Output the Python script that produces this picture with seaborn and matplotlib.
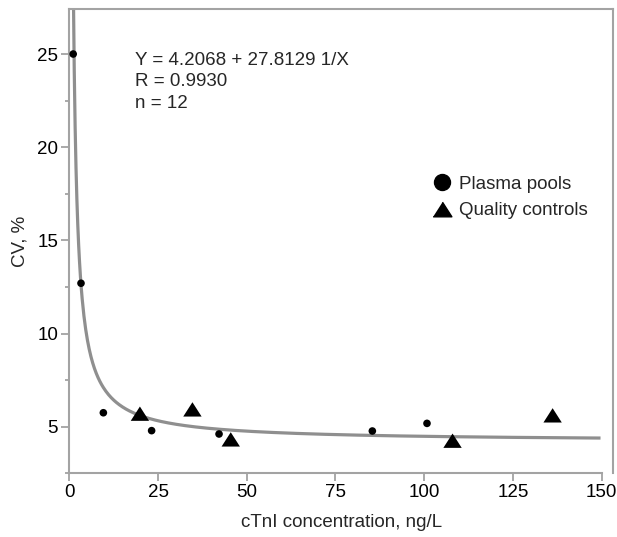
import matplotlib
matplotlib.use("Agg")
import matplotlib.pyplot as plt
import numpy as np
import pandas as pd
import seaborn as sns
from matplotlib.lines import Line2D
from matplotlib.ticker import MultipleLocator

# Plasma pools (circles)
pool_x = [1.1, 3.3, 9.6, 23.2, 42.2, 85.4, 100.8]
pool_cv = [25.0, 12.7, 5.75, 4.79, 4.61, 4.77, 5.18]

# Quality controls (triangles)
qc_x = [19.9, 34.7, 45.5, 108.0, 136.2]
qc_cv = [5.70, 5.93, 4.32, 4.25, 5.61]

# fitted curve Y = a + b / X
fit_a = 4.2068
fit_b = 27.8129

GREY = "#8f8f8f"
AXGREY = "#a3a3a3"

sns.set_theme(style="ticks")
plt.rcParams["font.family"] = ["Liberation Sans", "DejaVu Sans"]

df = pd.DataFrame({
    "x": pool_x + qc_x,
    "cv": pool_cv + qc_cv,
    "group": ["Plasma pools"] * len(pool_x) + ["Quality controls"] * len(qc_x),
})

tri = [(-1, -0.78), (1, -0.78), (0, 0.78)]

fig = plt.figure(figsize=(6.17, 5.37), dpi=100)
ax = fig.add_axes([0.1123, 0.1186, 0.994 - 0.1123, 0.9827 - 0.1186])

xs = np.linspace(1.15, 149.7, 600)
ax.plot(xs, fit_a + fit_b / xs, color=GREY, lw=2.3, zorder=2, solid_capstyle="butt")

pools = df[df.group == "Plasma pools"]
qcs = df[df.group == "Quality controls"]
sns.scatterplot(data=pools, x="x", y="cv", marker="o", s=30, color="black",
                edgecolor="none", ax=ax, zorder=3, legend=False)
sns.scatterplot(data=qcs, x="x", y="cv", marker=tri, s=175, color="black",
                edgecolor="none", ax=ax, zorder=3, legend=False)

ax.set_xlim(0, 153.3)
ax.set_ylim(2.5, 27.4)
ax.set_xticks(np.arange(0, 151, 25))
ax.set_yticks([5, 10, 15, 20, 25])
ax.yaxis.set_minor_locator(MultipleLocator(2.5))
ax.spines["bottom"].set_bounds(0, 150)

for sp in ax.spines.values():
    sp.set_color(AXGREY)
    sp.set_linewidth(1.5)
ax.tick_params(axis="both", which="major", colors=AXGREY, labelcolor="black",
               labelsize=13.5, length=6, width=1.3, pad=2)
ax.tick_params(axis="y", which="minor", colors=AXGREY, length=3, width=1.3)

ax.set_xlabel("cTnI concentration, ng/L", fontsize=13.5, labelpad=9)
ax.set_ylabel("CV, %", fontsize=13.5, labelpad=6)

ax.text(0.1210, 0.909, "Y = 4.2068 + 27.8129 1/X\nR = 0.9930\nn = 12",
        transform=ax.transAxes, fontsize=13.5, va="top", ha="left",
        linespacing=1.38)

handles = [
    Line2D([], [], ls="none", marker="o", color="black", markersize=11.5),
    Line2D([], [], ls="none", marker=tri, color="black", markersize=13.5),
]
ax.legend(handles, ["Plasma pools", "Quality controls"], frameon=False,
          loc="upper left", bbox_to_anchor=(0.651, 0.658), fontsize=13.5,
          handletextpad=0.3, handlelength=1.2, labelspacing=0.5,
          borderaxespad=0)

fig.savefig("out.png", dpi=100)
